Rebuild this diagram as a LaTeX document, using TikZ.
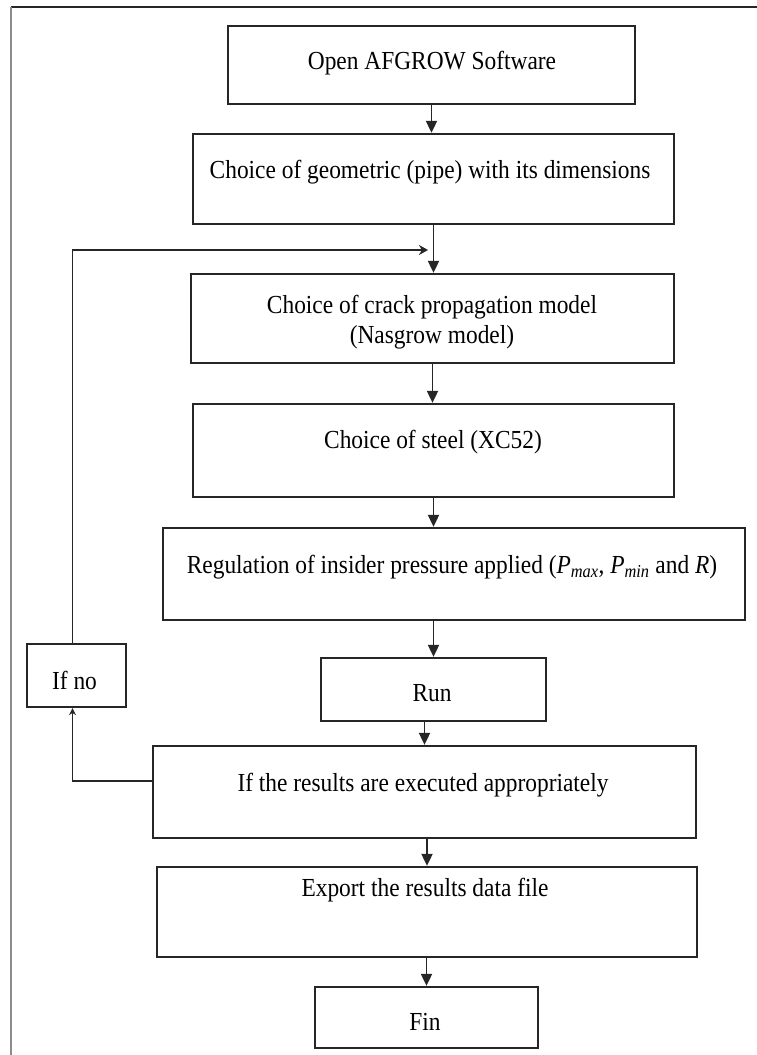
\documentclass[tikz,border=0pt]{standalone}
\usepackage{graphicx}
\usepackage{fontspec}
\setmainfont{Liberation Serif}
\usetikzlibrary{arrows.meta}
\definecolor{ink}{HTML}{262626}
\definecolor{frame}{HTML}{8C8C8C}
\newcommand{\sqz}[1]{\scalebox{0.9}[1]{#1}}
\begin{document}
\begin{tikzpicture}[x=1pt,y=-1pt,
  box/.style={draw=ink, line width=2.3pt, inner sep=0pt},
  lbl/.style={font=\fontsize{26}{30}\selectfont, inner sep=0pt, align=center, text=black},
  arr/.style={draw=ink, line width=1.9pt, -{Triangle[length=12pt,width=11pt]}},
  loopa/.style={draw=ink, line width=1.9pt, -{Stealth[length=9pt,width=10pt]}},
  loopb/.style={draw=ink, line width=1.9pt, -{Stealth[length=7pt,width=7pt]}},
]
\useasboundingbox (0,0) rectangle (757,1055);
\draw[line width=2pt, ink] (11,7) -- (757,7);
\draw[line width=2.4pt, frame] (11,7) -- (11,1055);

% boxes
\node[box, minimum width=407, minimum height=78] (b1) at (431.5,65) {};
\node[box, minimum width=481, minimum height=90] (b2) at (433.5,179) {};
\node[box, minimum width=483, minimum height=89] (b3) at (432.5,318.5) {};
\node[box, minimum width=481, minimum height=93] (b4) at (433.5,450.5) {};
\node[box, minimum width=582, minimum height=92] (b5) at (454,574) {};
\node[box, minimum width=225, minimum height=63] (run) at (433.5,689.5) {};
\node[box, minimum width=99, minimum height=63] (ifno) at (76.5,675.5) {};
\node[box, minimum width=543, minimum height=92] (b8) at (424.5,792) {};
\node[box, minimum width=540, minimum height=90] (b9) at (427,912) {};
\node[box, minimum width=223, minimum height=61] (fin) at (426.5,1017.5) {};

% texts
\node[lbl] (t1) at (432,63) {\sqz{Open AFGROW Software}};
\node[lbl] (t2) at (430,172) {\sqz{Choice of geometric (pipe) with its dimensions}};
\node[lbl] (t3) at (432,322) {\sqz{Choice of crack propagation model}\\\sqz{(Nasgrow model)}};
\node[lbl] (t4) at (433,442) {\sqz{Choice of steel (XC52)}};
\node[lbl] (t5) at (452,567) {\sqz{Regulation of insider pressure applied (\textit{P}\textsubscript{\textit{max}}, \textit{P}\textsubscript{\textit{min}} and \textit{R})}};
\node[lbl] (t6) at (432,693) {\sqz{Run}};
\node[lbl] (t7) at (74.5,680) {\sqz{If no}};
\node[lbl] (t8) at (423,785) {\sqz{If the results are executed appropriately}};
\node[lbl] (t9) at (425,890) {\sqz{Export the results data file}};
\node[lbl] (t10) at (425,1022) {\sqz{Fin}};

% main flow
\draw[arr] (b1.south) -- (b1.south |- b2.north);
\draw[arr] (b2.south) -- (b2.south |- b3.north);
\draw[arr] (b3.south) -- (b3.south |- b4.north);
\draw[arr] (b4.south) -- (b4.south |- b5.north);
\draw[arr] (run.north |- b5.south) -- (run.north);
\draw[arr] (b8.north |- run.south) -- (b8.north);
\draw[arr] (b9.north |- b8.south) -- (b9.north);
\draw[arr] (fin.north |- b9.south) -- (fin.north);

% loop
\coordinate (j) at (428,250);
\draw[loopb] ([yshift=11pt]b8.west) -| ([xshift=-4pt]ifno.south);
\draw[loopa] ([xshift=-4pt]ifno.north) |- (j);
\end{tikzpicture}
\end{document}
